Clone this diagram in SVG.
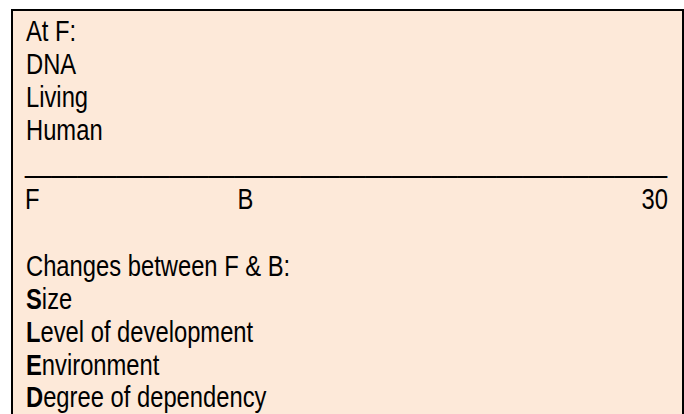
<svg xmlns="http://www.w3.org/2000/svg" width="684" height="414" viewBox="0 0 684 414">
  <style>
    .t { font-family: "Liberation Sans", Arial, sans-serif; font-size: 29px; fill: #000; }
    .b { font-weight: bold; }
  </style>
  <rect width="684" height="414" fill="#ffffff"/>
  <g id="box">
    <rect x="12" y="10" width="671" height="420" fill="#FDE9D9" stroke="#000" stroke-width="2"/>
  </g>
  <g transform="scale(0.82 1)">
    <g id="at-f">
      <text class="t" x="31.7" y="41.5">At F:</text>
      <text class="t" x="31.7" y="74.5">DNA</text>
      <text class="t" x="31.7" y="107.5">Living</text>
      <text class="t" x="31.7" y="140.5">Human</text>
    </g>
    <g id="timeline">
      <text class="t" x="30.5" y="172.5" textLength="783" lengthAdjust="spacingAndGlyphs">_________________________________________________</text>
      <text class="t" x="30.5" y="209">F</text>
      <text class="t" x="289.6" y="209">B</text>
      <text class="t" x="814.6" y="209" text-anchor="end">30</text>
    </g>
    <g id="changes">
      <text class="t" x="31.7" y="276.5">Changes between F &amp; B:</text>
      <text class="t" x="31.7" y="309.5"><tspan class="b">S</tspan>ize</text>
      <text class="t" x="31.7" y="342.5"><tspan class="b">L</tspan>evel of development</text>
      <text class="t" x="31.7" y="375.5"><tspan class="b">E</tspan>nvironment</text>
      <text class="t" x="31.7" y="407.5"><tspan class="b">D</tspan>egree of dependency</text>
    </g>
  </g>
</svg>
